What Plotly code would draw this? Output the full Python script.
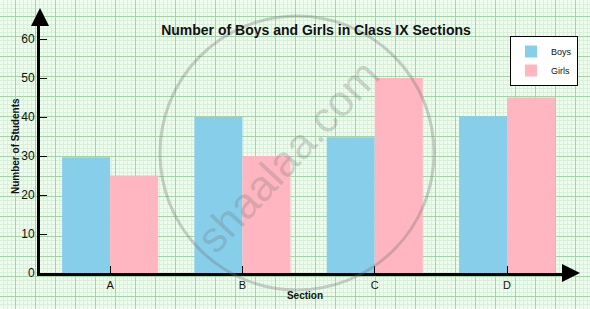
import plotly.graph_objects as go

# ---- data ----
sections = ["A", "B", "C", "D"]
boys = [29.7, 40, 34.8, 40.2]
girls = [25, 30, 50, 45]
y_ticks = [0, 10, 20, 30, 40, 50, 60]
series_names = ["Boys", "Girls"]
title_text = "Number of Boys and Girls in Class IX Sections"
x_title = "Section"
y_title = "Number of Students"
watermark = "shaalaa.com"

# ---- style ----
W, H = 590, 309
BG = "#eefbee"
MAJOR = "#a2d6a6"
MINOR = "#d9f1da"
BOYS_C = "#87CEEB"
GIRLS_C = "#FFB6C1"
FONT = "Arial, Liberation Sans, sans-serif"

fig = go.Figure()
fig.add_trace(go.Bar(name=series_names[0], x=sections, y=boys, marker=dict(color=BOYS_C, line=dict(width=0)),
                     xaxis="x2", yaxis="y2"))
fig.add_trace(go.Bar(name=series_names[1], x=sections, y=girls, marker=dict(color=GIRLS_C, line=dict(width=0)),
                     xaxis="x2", yaxis="y2"))

x_dom = [40 / W, 570 / W]
y_dom = [36 / H, (H - 19.5) / H]

fig.update_layout(
    template="none",
    width=W, height=H,
    margin=dict(l=0, r=0, t=0, b=0, pad=0),
    paper_bgcolor=BG, plot_bgcolor="rgba(0,0,0,0)",
    barmode="group", bargap=0.274, bargroupgap=0,
    font=dict(family=FONT, color="#111"),
    showlegend=True,
    legend=dict(x=578 / W, y=1 - 36 / H, xanchor="right", yanchor="top",
                bgcolor="white", bordercolor="black", borderwidth=1,
                font=dict(size=9, color="#111"), itemwidth=30,
                tracegroupgap=0),
    title=dict(text="<b>" + title_text + "</b>", x=316 / W, y=1 - 30 / H,
               xanchor="center", yanchor="middle",
               font=dict(size=14, color="#111", family=FONT)),
    # background graph-paper grid (pixel-scaled axes covering the whole figure)
    xaxis=dict(domain=[0, 1], range=[0, W], showgrid=True, gridcolor=MAJOR, gridwidth=1,
               tick0=15, dtick=20, showticklabels=False, zeroline=False, ticks="",
               showline=False, fixedrange=True, automargin=False,
               minor=dict(showgrid=True, gridcolor=MINOR, gridwidth=1, tick0=15, dtick=4, ticks="")),
    yaxis=dict(domain=[0, 1], range=[H, 0], showgrid=True, gridcolor=MAJOR, gridwidth=1,
               tick0=16, dtick=20, showticklabels=False, zeroline=False, ticks="",
               showline=False, fixedrange=True, automargin=False,
               minor=dict(showgrid=True, gridcolor=MINOR, gridwidth=1, tick0=16, dtick=4, ticks="")),
    xaxis2=dict(domain=x_dom, anchor="y2", range=[-0.53, 3.476], showgrid=False, zeroline=False,
                showline=True, linecolor="black", linewidth=3, automargin=False,
                ticks="inside", ticklen=7, tickwidth=1, tickcolor="black",
                tickfont=dict(size=11, color="#111"),
                title=dict(text="<b>" + x_title + "</b>", font=dict(size=10, color="#111"), standoff=2)),
    yaxis2=dict(domain=y_dom, anchor="x2", range=[0, 65], tickvals=y_ticks,
                showgrid=False, zeroline=False, automargin=False,
                showline=True, linecolor="black", linewidth=3,
                ticks="inside", ticklen=7, tickwidth=1, tickcolor="black",
                tickfont=dict(size=12, color="#111"),
                title=dict(text="<b>" + y_title + "</b>", font=dict(size=10, color="#111"), standoff=0)),
)

# axis arrowheads
fig.add_annotation(xref="x2 domain", yref="y2 domain", x=0, y=(273 - 8) / 253.5,
                   ax=0, ay=16, showarrow=True, arrowhead=2, arrowsize=1.2, arrowwidth=3,
                   arrowcolor="black", text="", standoff=0)
fig.add_annotation(xref="x2 domain", yref="y2 domain", x=(580 - 40) / 530, y=0,
                   ax=-16, ay=0, showarrow=True, arrowhead=2, arrowsize=1.2, arrowwidth=3,
                   arrowcolor="black", text="", standoff=0)

# watermark
fig.add_shape(type="circle", xref="x", yref="y", x0=160, x1=434, y0=16, y1=290,
              line=dict(color="rgba(120,120,120,0.35)", width=3), layer="above")
fig.add_annotation(xref="x", yref="y", x=288, y=156, text=watermark, showarrow=False,
                   textangle=-47, font=dict(size=43, color="rgba(120,120,120,0.3)", family=FONT))

fig.write_html("out.html")
